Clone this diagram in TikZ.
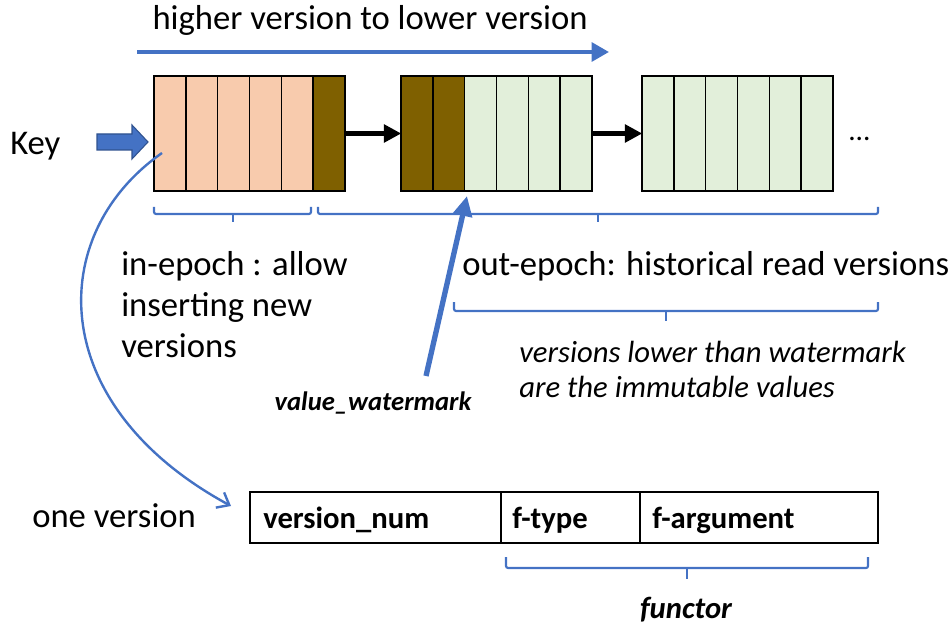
\documentclass[tikz,border=0pt]{standalone}
\usepackage{fontspec}
\setmainfont{Carlito}
\usetikzlibrary{arrows.meta}
\definecolor{peach}{HTML}{F8CBAD}
\definecolor{brownc}{HTML}{7F6000}
\definecolor{greenc}{HTML}{E2EFDA}
\definecolor{bluec}{HTML}{4472C4}
\definecolor{darkblue}{HTML}{2F528F}
\tikzset{
  cell/.style={draw=black, line width=1.1pt},
  blk/.style={draw=black, line width=1.6pt, inner sep=0pt, minimum width=143.25pt, minimum height=86.25pt},
  bracket/.style={draw=bluec, line width=1.6pt, rounded corners=1.5pt},
  big/.style={font=\fontsize{26}{31}\selectfont, inner sep=0pt},
  mid/.style={font=\fontsize{23}{27}\selectfont\itshape, inner sep=0pt},
  fld/.style={font=\fontsize{23}{27}\selectfont\bfseries, inner sep=0pt},
  blackarrow/.style={draw=black, line width=3.4pt, -{Triangle[length=13pt,width=13pt]}, shorten >=-1pt},
}
\begin{document}
\begin{tikzpicture}[x=0.75pt,y=-0.75pt]
\useasboundingbox (0,0) rectangle (952,627);
% block 1
\foreach \i/\c in {0/peach,1/peach,2/peach,3/peach,4/peach,5/brownc}{
  \filldraw[cell, fill=\c] ({154+\i*31.83},76) rectangle ({154+(\i+1)*31.83},191);
}
\node[blk] (b1) at (249.5,133.5) {};
% block 2
\foreach \i/\c in {0/brownc,1/brownc,2/greenc,3/greenc,4/greenc,5/greenc}{
  \filldraw[cell, fill=\c] ({401+\i*31.83},76) rectangle ({401+(\i+1)*31.83},191);
}
\node[blk] (b2) at (496.5,133.5) {};
% block 3
\foreach \i in {0,...,5}{
  \filldraw[cell, fill=greenc] ({642+\i*31.83},76) rectangle ({642+(\i+1)*31.83},191);
}
\node[blk] (b3) at (737.5,133.5) {};
\draw[blackarrow] (b1.east) -- (b2.west);
\draw[blackarrow] (b2.east) -- (b3.west);
\node[font=\fontsize{22}{26}\selectfont, inner sep=0pt, anchor=base west] (dots) at (848,141) {...};

% top arrow
\node[big, anchor=base] (title) at (370,30) {higher version to lower version};
\coordinate (ta) at (137,52);
\coordinate (tb) at (609,52);
\draw[draw=bluec, line width=3pt, -{Triangle[length=13pt,width=14pt]}] (ta) -- (tb);

% key
\node[big, anchor=base west] (key) at (10,155) {Key};
\fill[bluec, draw=darkblue, line width=0.8pt] (97,134) -- (132,134) -- (132,125) -- (148,142) -- (132,159) -- (132,150) -- (97,150) -- cycle;

% brackets
\draw[bracket] (154,207) -- (154,214) -- (311,214) -- (311,207);
\draw[bracket] (233,214) -- (233,222);
\draw[bracket] (318,207) -- (318,214) -- (878,214) -- (878,207);
\draw[bracket] (598,214) -- (598,222);
\draw[bracket] (454,302) -- (454,311) -- (878,311) -- (878,302);
\draw[bracket] (666,311) -- (666,321);

% texts
\node[big, anchor=base west] (inep1) at (121,275) {in-epoch : allow};
\node[big, anchor=base west] (inep2) at (121,316) {inserting new};
\node[big, anchor=base west] (inep3) at (121,357) {versions};
\node[big, anchor=base west] (outep) at (462,275) {out-epoch: historical read versions};
\node[mid, anchor=base west] (imm1) at (519,362) {versions lower than watermark};
\node[mid, anchor=base west] (imm2) at (519,397) {are the immutable values};
\node[font=\fontsize{20}{24}\selectfont\bfseries\itshape, inner sep=0pt, anchor=base] (wm) at (373,410) {value\_watermark};

% watermark arrow
\coordinate (wt) at (426,376);
\coordinate (wh) at (467,196);
\draw[draw=bluec, line width=4pt, -{Triangle[length=15pt,width=14pt]}] (wt) -- (wh);

% one version
\node[big, anchor=base west] (onev) at (32,527) {one version};
\node[draw=black, line width=1.2pt, minimum width=471pt, minimum height=38.25pt, inner sep=0pt] (rec) at (564,517.5) {};
\draw[line width=1.2pt] (501,492) -- (501,543);
\draw[line width=1.2pt] (640,492) -- (640,543);
\node[fld, anchor=base west] (vn) at (263,528) {version\_num};
\node[fld, anchor=base west] (ft) at (512,528) {f-type};
\node[fld, anchor=base west] (fa) at (652,528) {f-argument};
\draw[bracket] (506,557) -- (506,568) -- (868,568) -- (868,557);
\draw[bracket] (687,568) -- (687,579);
\node[font=\fontsize{23}{27}\selectfont\bfseries\itshape, inner sep=0pt, anchor=base] (fun) at (686,618) {functor};

% curved arrow
\coordinate (cs) at (162,153);
\coordinate (ce) at (231,506);
\draw[draw=bluec, line width=1.8pt, -{Straight Barb[length=8pt,width=13pt]}] (cs) .. controls (45,235) and (45,405) .. (ce);
\end{tikzpicture}
\end{document}
